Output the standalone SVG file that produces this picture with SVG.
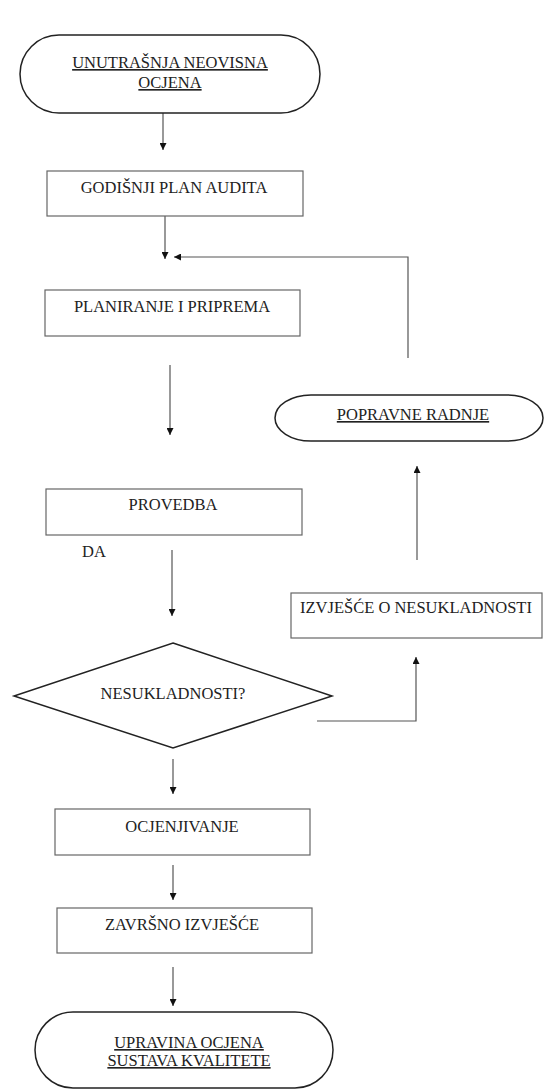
<svg xmlns="http://www.w3.org/2000/svg" width="544" height="1089" viewBox="0 0 544 1089">
<style>
.box{fill:#fff;stroke:#666;stroke-width:1.2}
.term{fill:#fff;stroke:#222;stroke-width:1.5}
.dia{fill:#fff;stroke:#222;stroke-width:1.5}
.t{font-family:'Liberation Serif','Times New Roman',Tinos,'DejaVu Serif',serif;font-size:16.5px;fill:#222;text-anchor:middle}
.u{text-decoration:underline}
.c{fill:none;stroke:#555;stroke-width:1.2}
</style>
<defs>
<marker id="ah" viewBox="0 0 10 10" refX="10" refY="5" markerWidth="7" markerHeight="7" markerUnits="userSpaceOnUse" orient="auto">
<path d="M0,0 L10,5 L0,10 Z" fill="#111"/>
</marker>
</defs>
<rect width="544" height="1089" fill="#fff"/>
<g id="connectors">
<line class="c" x1="163" y1="113" x2="163" y2="150" marker-end="url(#ah)"/>
<line class="c" x1="165" y1="216" x2="165" y2="259" marker-end="url(#ah)"/>
<polyline class="c" points="408,358 408,257 174,257" marker-end="url(#ah)"/>
<line class="c" x1="170" y1="365" x2="170" y2="435" marker-end="url(#ah)"/>
<line class="c" x1="172" y1="550" x2="172" y2="616" marker-end="url(#ah)"/>
<line class="c" x1="173" y1="759" x2="173" y2="794" marker-end="url(#ah)"/>
<line class="c" x1="173" y1="865" x2="173" y2="900" marker-end="url(#ah)"/>
<line class="c" x1="173" y1="967" x2="173" y2="1006" marker-end="url(#ah)"/>
<polyline class="c" points="317,721 416,721 416,657" marker-end="url(#ah)"/>
<line class="c" x1="417" y1="560" x2="417" y2="466" marker-end="url(#ah)"/>
</g>
<g id="n-start">
<rect class="term" x="20" y="35" width="300" height="78" rx="39" ry="39"/>
<text class="t u" font-family="Liberation Serif, serif" x="170" y="68">UNUTRAŠNJA NEOVISNA</text>
<text class="t u" font-family="Liberation Serif, serif" x="170" y="88">OCJENA</text>
</g>
<g id="n-plan">
<rect class="box" x="47" y="171" width="256" height="45"/>
<text class="t" font-family="Liberation Serif, serif" x="174" y="193">GODIŠNJI PLAN AUDITA</text>
</g>
<g id="n-planiranje">
<rect class="box" x="45" y="290" width="255" height="46"/>
<text class="t" font-family="Liberation Serif, serif" x="172" y="312">PLANIRANJE I PRIPREMA</text>
</g>
<g id="n-popravne">
<rect class="term" x="275" y="395" width="268" height="46" rx="36" ry="23"/>
<text class="t u" font-family="Liberation Serif, serif" x="413" y="420">POPRAVNE RADNJE</text>
</g>
<g id="n-provedba">
<rect class="box" x="46" y="489" width="256" height="46"/>
<text class="t" font-family="Liberation Serif, serif" x="173" y="510">PROVEDBA</text>
</g>
<g id="lbl-da">
<text class="t" font-family="Liberation Serif, serif" x="94" y="557">DA</text>
</g>
<g id="n-izvjesce">
<rect class="box" x="291" y="593" width="251" height="45"/>
<text class="t" font-family="Liberation Serif, serif" x="416" y="613">IZVJEŠĆE O NESUKLADNOSTI</text>
</g>
<g id="n-decision">
<polygon class="dia" points="173,643 332,696 173,748 14,696"/>
<text class="t" font-family="Liberation Serif, serif" x="173" y="699">NESUKLADNOSTI?</text>
</g>
<g id="n-ocjenjivanje">
<rect class="box" x="55" y="809" width="255" height="46"/>
<text class="t" font-family="Liberation Serif, serif" x="182" y="832">OCJENJIVANJE</text>
</g>
<g id="n-zavrsno">
<rect class="box" x="57" y="908" width="255" height="45"/>
<text class="t" font-family="Liberation Serif, serif" x="182" y="930">ZAVRŠNO IZVJEŠĆE</text>
</g>
<g id="n-end">
<rect class="term" x="35" y="1012" width="298" height="76" rx="38" ry="38"/>
<text class="t u" font-family="Liberation Serif, serif" x="189" y="1048">UPRAVINA OCJENA</text>
<text class="t u" font-family="Liberation Serif, serif" x="189" y="1066">SUSTAVA KVALITETE</text>
</g>
</svg>
